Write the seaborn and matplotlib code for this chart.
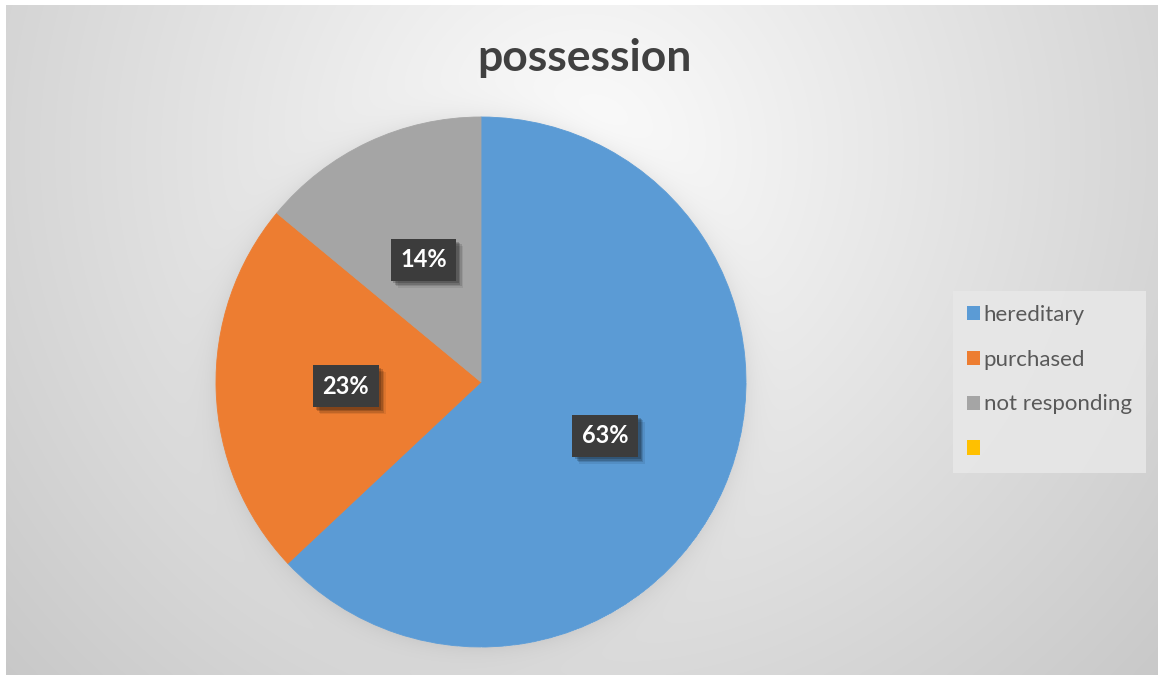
import numpy as np
import matplotlib
matplotlib.use("Agg")
import matplotlib.pyplot as plt
import matplotlib.patheffects as pe
from matplotlib.patches import Patch
import seaborn as sns

# Ownership shares of the surveyed holdings
categories = ["hereditary", "purchased", "not responding", ""]
shares = [63, 23, 14, 0]
title = "possession"

sns.set_theme(style="white")
plt.rcParams["font.family"] = ["Lato", "DejaVu Sans"]

palette = sns.color_palette(["#5B9BD5", "#ED7D31", "#A5A5A5", "#FFC000"])

W, H = 1158, 675
fig = plt.figure(figsize=(W / 100, H / 100), dpi=100)
fig.patch.set_facecolor("white")

# Radial grey backdrop of the chart area with a soft halo under the pie
cx, cy, R = 481, 382, 265
yy, xx = np.mgrid[0:H, 0:W].astype(float)
dist = np.hypot(xx - 585, yy - 150)
gray = np.clip(252 - 0.066 * dist, 0, 255)
rp = np.hypot(xx - cx, yy - cy)
halo = np.where(rp > R, 14 * np.exp(-(rp - R) / 11.0), 0)
gray = gray - halo
gray[:5, :] = 255
gray[:, :6] = 255
bg = np.dstack([gray, gray, gray]) / 255.0
bg_ax = fig.add_axes([0, 0, 1, 1], zorder=0)
bg_ax.imshow(bg, extent=(0, W, H, 0), interpolation="bilinear", aspect="auto")
bg_ax.set_axis_off()

# Pie axes sized so radius 1 spans R pixels
ax = fig.add_axes([(cx - R) / W, (H - cy - R) / H, 2 * R / W, 2 * R / H], zorder=1)
wedges, _ = ax.pie(
    shares,
    colors=palette,
    startangle=90,
    counterclock=False,
    radius=1,
    wedgeprops=dict(linewidth=0),
)
for w, v in zip(wedges, shares):
    if v > 0:
        w.set_edgecolor(w.get_facecolor())
        w.set_linewidth(0.6)
    else:
        w.set_visible(False)
ax.set_xlim(-1, 1)
ax.set_ylim(-1, 1)
ax.set_aspect("equal")
ax.set_axis_off()

# Soft drop shadow built from a few offset, faint copies of the box
soft_shadow = [
    pe.SimplePatchShadow(offset=(o, -o), shadow_rgbFace="black", alpha=a)
    for o, a in [(5, 0.08), (4, 0.12), (3, 0.16), (2, 0.18)]
] + [pe.Normal()]

for w, v in zip(wedges, shares):
    if v <= 0:
        continue
    mid = np.deg2rad((w.theta1 + w.theta2) / 2)
    t = ax.text(
        0.51 * np.cos(mid), 0.51 * np.sin(mid), f"{v}%",
        ha="center", va="center", color="white", fontsize=17, fontweight="bold",
        bbox=dict(boxstyle="square,pad=0.4", fc="#3c3c3c", ec="none", lw=0),
        zorder=5,
    )
    t.get_bbox_patch().set_path_effects(soft_shadow)

fig.text(584 / W, 1 - 58 / H, title, ha="center", va="center",
         fontsize=32, fontweight="bold", color="#404040")

handles = [Patch(facecolor=c, edgecolor="none") for c in palette]
leg = fig.legend(
    handles, categories,
    loc="center left", bbox_to_anchor=(960 / W, 1 - 382 / H),
    frameon=True, fontsize=16, handlelength=0.6, handleheight=0.6,
    handletextpad=0.15, labelspacing=1.12, borderpad=0.32, borderaxespad=0,
)
frame = leg.get_frame()
frame.set_facecolor("#e8e8e8")
frame.set_alpha(0.85)
frame.set_edgecolor("none")
frame.set_boxstyle("square")
for txt in leg.get_texts():
    txt.set_color("#595959")

fig.savefig("out.png", dpi=100)
